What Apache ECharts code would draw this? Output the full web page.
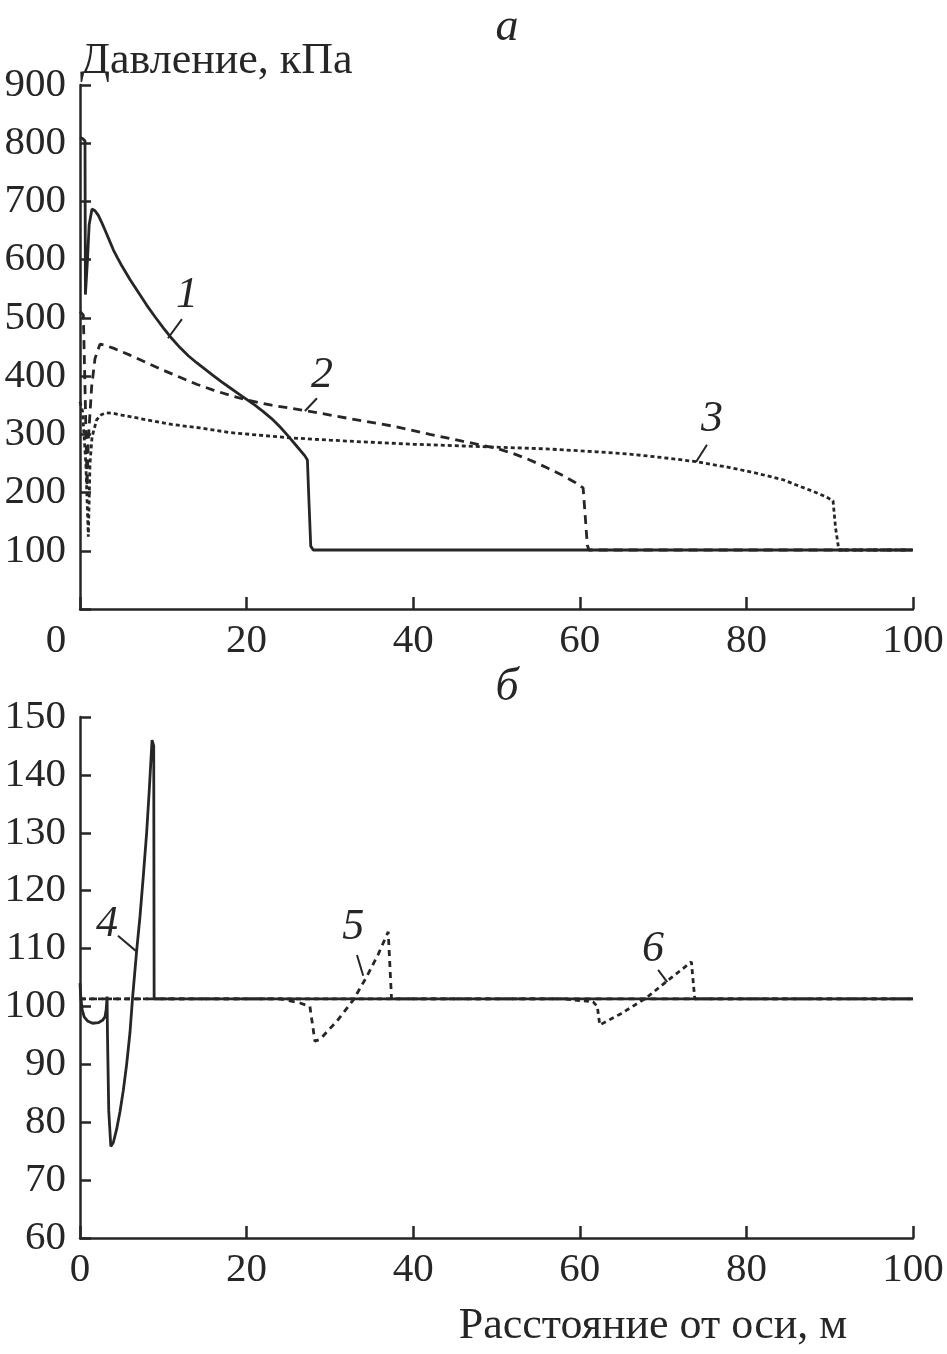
<!DOCTYPE html>
<html>
<head>
<meta charset="utf-8">
<script src="https://cdn.jsdelivr.net/npm/echarts@6/dist/echarts.min.js"></script>
<style>
html,body{margin:0;padding:0;background:#fff;}
#chart{width:947px;height:1354px;}
</style>
</head>
<body>
<div id="chart"></div>
<script>
// ---- Data (x: distance from axis, m; y: pressure, kPa) ----
var xTicks = [0, 20, 40, 60, 80, 100];
var yTicksTop = [100, 200, 300, 400, 500, 600, 700, 800, 900];
var yTicksBottom = [60, 70, 80, 90, 100, 110, 120, 130, 140, 150];

var curve1 = [[0,810],[0.3,808],[0.6,804],[0.65,540],[0.9,600],[1.1,660],[1.44,687],[1.8,684],[2.2,676],[2.6,664],[3,651],[3.5,634],[4,617],[4.5,603],[5,590],[5.5,578],[6,566],[7,544],[8,522],[9,502],[10,483],[11,465],[12,449],[13,435],[14,423],[15,412],[16,401],[17,390],[18,380],[19,370],[20,360],[21,350],[22,339],[23,327],[24,313],[25,297],[26,280],[27,263],[27.3,256],[27.5,180],[27.7,108],[28,101.3],[100,101.3]];
var curve2 = [[0,511],[0.4,505],[0.6,380],[0.85,210],[1.0,290],[1.4,382],[1.8,430],[2.4,455],[3,453],[4,448],[6,436],[8,423],[10,410],[12,398],[14,386],[16,376],[18,367],[20,359],[23,350],[27,341],[32,328],[38,313],[42,300],[46,288],[50,276],[52,267],[54,256],[56,243],[58,229],[59.5,217],[60.4,208],[60.7,150],[60.9,110],[61.1,101.3],[100,101.3]];
var curve3 = [[0,356],[0.3,340],[0.7,250],[1.0,124],[1.2,250],[1.45,296],[2,325],[2.6,334],[3.2,337],[4,336],[5,333],[8,325],[11,317],[14.4,311],[18,303],[22,298],[25.2,294],[30,290],[34,287],[40,283],[46,280],[50,278],[56,275],[62,270],[66,266],[70,260],[74,253],[78,243],[81,234],[84.4,222],[86,213],[88,202],[89.5,193],[90.4,186],[90.7,140],[91.1,101.3],[100,101.3]];
var curve4 = [[0,104],[0.1,101.5],[0.25,99.5],[0.5,98.2],[0.9,97.5],[1.5,97.1],[2.2,97.2],[2.7,97.6],[3.0,98.2],[3.15,99.5],[3.25,101.7],[3.3,95],[3.45,82],[3.7,75.8],[4.0,76.5],[4.4,78.8],[4.8,81.8],[5.2,85.5],[5.6,90],[6.0,95.5],[6.3,101.3],[6.8,109.6],[7.2,115.5],[7.6,122.5],[8.0,130],[8.3,137],[8.65,146],[8.85,145],[8.9,101.3],[100,101.3]];
var curve5 = [[0,101.3],[24,101.3],[26.4,100.6],[27.6,100],[28.2,94],[28.8,94.3],[30.8,97.4],[32.8,101.1],[34.4,105.1],[35.8,109],[37.0,112.9],[37.4,101.3],[100,101.3]];
var curve6 = [[0,101.3],[58,101.3],[61.6,100.8],[62.1,100],[62.4,96.8],[65,98.8],[68,101.5],[70.4,104.3],[73.4,107.7],[73.8,101.3],[100,101.3]];

var labelsTop = ['1', '2', '3'];
var labelPosTop = [[12.85,539],[29.05,402],[75.87,325]];
var leadersTop = [[[12.24,498],[10.56,465]], [[28.45,362],[27.0,340]], [[75.27,282],[73.95,252.5]]];
var labelsBottom = ['4', '5', '6'];
var labelPosBottom = [[3.24,114.1],[32.8,113.7],[68.8,109.8]];
var leadersBottom = [[[4.56,112.2],[6.7,109.6]], [[33.25,108.9],[34.0,105.3]], [[69.4,106.3],[70.5,104.2]]];

// ---- Chart ----
var INK = '#262626';
var SERIF = '"Liberation Serif","DejaVu Serif",serif';
var FS = 41;
var FN = 44;

function xAxisCfg(grid, hideZero) {
  return {
    type: 'value', gridIndex: grid, min: 0, max: 100, interval: 20,
    axisLine: {show: true, onZero: false, lineStyle: {color: INK, width: 2.5}},
    axisTick: {show: true, inside: true, length: 12, lineStyle: {color: INK, width: 2.5}},
    splitLine: {show: false},
    axisLabel: {
      color: INK, fontFamily: SERIF, fontSize: FS, margin: 12,
      formatter: function (v) {
        if (xTicks.indexOf(v) < 0) return '';
        if (hideZero && v === 0) return '{z|0}';
        return String(v);
      },
      rich: {z: {fontFamily: SERIF, fontSize: FS, color: INK, padding: [0, 48, 0, 0]}}
    }
  };
}
function yAxisCfg(grid, min, max, interval, ticks) {
  return {
    type: 'value', gridIndex: grid, min: min, max: max, interval: interval,
    axisLine: {show: true, onZero: false, lineStyle: {color: INK, width: 2.5}},
    axisTick: {show: true, inside: true, length: 11, lineStyle: {color: INK, width: 2.5}},
    splitLine: {show: false},
    axisLabel: {
      color: INK, fontFamily: SERIF, fontSize: FS, margin: 14,
      formatter: function (v) {
        if (ticks.indexOf(v) < 0) return '';
        return String(v);
      }
    }
  };
}

function lineSeries(data, xi, yi, dash, name) {
  return {
    name: name, type: 'line', xAxisIndex: xi, yAxisIndex: yi, data: data,
    showSymbol: false, symbol: 'none', smooth: false, animation: false,
    lineStyle: {color: INK, width: 2.8, type: dash}, z: 3
  };
}
function leaderSeries(pts, xi, yi) {
  return {
    type: 'line', xAxisIndex: xi, yAxisIndex: yi, data: pts, symbol: 'none',
    showSymbol: false, animation: false, silent: true,
    lineStyle: {color: INK, width: 2, type: 'solid'}, z: 4
  };
}
function labelSeries(texts, pos, xi, yi) {
  return {
    type: 'scatter', xAxisIndex: xi, yAxisIndex: yi, symbolSize: 0, animation: false,
    itemStyle: {color: INK, opacity: 1}, silent: true,
    data: texts.map(function (t, i) { return {name: t, value: pos[i]}; }),
    label: {
      show: true, position: 'inside', formatter: '{b}', color: INK, opacity: 1,
      textBorderWidth: 0, textBorderColor: 'transparent',
      fontFamily: SERIF, fontStyle: 'italic', fontSize: 44
    },
    emphasis: {disabled: true}, z: 5
  };
}

var series = [
  lineSeries(curve1, 0, 0, 'solid', '1'),
  lineSeries(curve2, 0, 0, [9, 6], '2'),
  lineSeries(curve3, 0, 0, [4, 3], '3'),
  lineSeries(curve4, 1, 1, 'solid', '4'),
  lineSeries(curve5, 1, 1, [6, 5], '5'),
  lineSeries(curve6, 1, 1, [5, 4], '6')
];
leadersTop.forEach(function (p) { series.push(leaderSeries(p, 0, 0)); });
leadersBottom.forEach(function (p) { series.push(leaderSeries(p, 1, 1)); });
series.push(labelSeries(labelsTop, labelPosTop, 0, 0));
series.push(labelSeries(labelsBottom, labelPosBottom, 1, 1));

var yTop = yAxisCfg(0, 0, 900, 100, yTicksTop);
yTop.name = 'Давление, кПа';
yTop.nameLocation = 'end';
yTop.nameGap = 24;
yTop.nameTextStyle = {align: 'left', verticalAlign: 'middle', fontFamily: SERIF, fontSize: FN, color: INK};

var option = {
  backgroundColor: '#fff',
  animation: false,
  grid: [
    {left: 80, top: 85, width: 833, height: 524},
    {left: 80, top: 717, width: 833, height: 521}
  ],
  xAxis: [xAxisCfg(0, true), xAxisCfg(1, false)],
  yAxis: [yTop, yAxisCfg(1, 60, 150, 10, yTicksBottom)],
  graphic: [
    {type: 'text', x: 507, y: 28, style: {text: 'а', fontFamily: SERIF, fontStyle: 'italic', fontSize: 46, fill: INK, textAlign: 'center', textVerticalAlign: 'middle'}},
    {type: 'text', x: 507, y: 688, style: {text: 'б', fontFamily: SERIF, fontStyle: 'italic', fontSize: 46, fill: INK, textAlign: 'center', textVerticalAlign: 'middle'}},
    {type: 'text', x: 653, y: 1326, style: {text: 'Расстояние от оси, м', fontFamily: SERIF, fontSize: FN, fill: INK, textAlign: 'center', textVerticalAlign: 'middle'}}
  ],
  series: series
};

var chart = echarts.init(document.getElementById('chart'), null, {renderer: 'canvas'});
chart.setOption(option);
</script>
</body>
</html>
